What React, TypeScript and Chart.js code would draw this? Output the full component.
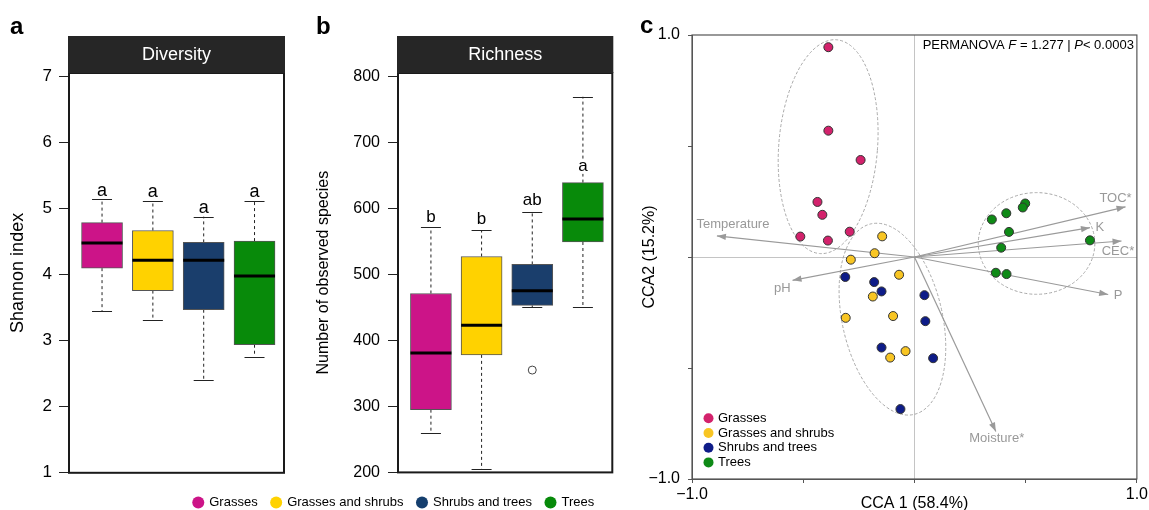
import React, { useEffect, useRef } from 'react';
import { Chart, registerables } from 'chart.js';

Chart.register(...registerables);

const FONT = '"Liberation Sans", Arial, Helvetica, sans-serif';
Chart.defaults.font.family = FONT;
Chart.defaults.color = '#000';

// ---------- shared groups ----------
const groups = ['Grasses', 'Grasses and shrubs', 'Shrubs and trees', 'Trees'];
const boxColors = ['#CC1488', '#FFD200', '#1A3E6C', '#088A0A'];
const dotColors = ['#D3226C', '#F8C523', '#0E1C88', '#0E8A16'];
const legendColors = ['#CC1488', '#FFD200', '#153F6E', '#078A0A'];

// ---------- panel a: Diversity (Shannon index) ----------
const divLow = [3.45, 3.32, 2.4, 2.76];
const divQ1 = [4.1, 3.76, 3.47, 2.94];
const divMed = [4.48, 4.22, 4.22, 3.98];
const divQ3 = [4.79, 4.67, 4.49, 4.51];
const divHigh = [5.14, 5.12, 4.88, 5.12];
const divLetters = ['a', 'a', 'a', 'a'];
const divLetterAt = [5.27, 5.25, 5.01, 5.25];
const divTicks = [1, 2, 3, 4, 5, 6, 7];

// ---------- panel b: Richness ----------
const richLow = [260, 205, 450, 450];
const richQ1 = [295, 378, 453, 549];
const richMed = [381, 423, 475, 584];
const richQ3 = [471, 527, 515, 639];
const richHigh = [571, 567, 595, 769];
const richOutlierGroup = [3];
const richOutlierValue = [355];
const richLetters = ['b', 'b', 'ab', 'a'];
const richLetterAt = [586, 583, 612, 663];
const richTicks = [200, 300, 400, 500, 600, 700, 800];

// ---------- panel c: CCA ----------
const grassesX = [-0.387, -0.387, -0.242, -0.436, -0.414, -0.291, -0.513, -0.389];
const grassesY = [0.945, 0.569, 0.437, 0.248, 0.19, 0.114, 0.092, 0.074];
const grassShrubX = [-0.145, -0.179, -0.286, -0.069, -0.187, -0.309, -0.096, -0.04, -0.109];
const grassShrubY = [0.093, 0.017, -0.012, -0.08, -0.178, -0.274, -0.266, -0.424, -0.453];
const shrubTreeX = [-0.311, -0.181, -0.148, 0.045, 0.049, -0.148, 0.084, -0.063];
const shrubTreeY = [-0.09, -0.113, -0.155, -0.172, -0.289, -0.408, -0.456, -0.685];
const treesX = [0.498, 0.487, 0.413, 0.348, 0.425, 0.39, 0.789, 0.366, 0.414];
const treesY = [0.241, 0.223, 0.197, 0.169, 0.113, 0.042, 0.075, -0.071, -0.077];
const ccaX = [grassesX, grassShrubX, shrubTreeX, treesX];
const ccaY = [grassesY, grassShrubY, shrubTreeY, treesY];

const vecNames = ['Temperature', 'pH', 'TOC*', 'K', 'CEC*', 'P', 'Moisture*'];
const vecX = [-0.888, -0.548, 0.949, 0.789, 0.931, 0.871, 0.366];
const vecY = [0.095, -0.105, 0.226, 0.132, 0.072, -0.169, -0.786];
const vecLabelX = [-0.816, -0.594, 0.904, 0.834, 0.915, 0.915, 0.37];
const vecLabelY = [0.149, -0.14, 0.266, 0.132, 0.027, -0.172, -0.817];

const ellCX = [-0.388, -0.099, 0.549];
const ellCY = [0.497, -0.28, 0.061];
const ellRX = [0.222, 0.225, 0.262];
const ellRY = [0.483, 0.44, 0.229];
const ellAngle = [4.5, -12.7, 0];

const cTickVals = [-1, -0.5, 0, 0.5, 1];
const cTickLabels = ['\u22121.0', '', '', '', '1.0'];

const permText = ['PERMANOVA ', 'F', ' = 1.277 | ', 'P', '< 0.0003'];

// ---------- box plot config ----------
type BoxOpts = {
  id: string;
  panel: string;
  header: string;
  yTitle: string;
  yTitleSize: number;
  tickSize: number;
  letterSize: number;
  ticks: number[];
  yMin: number;
  yMax: number;
  low: number[];
  q1: number[];
  med: number[];
  q3: number[];
  high: number[];
  letters: string[];
  letterAt: number[];
  outGroup: number[];
  outValue: number[];
  padLeft: number;
  axisWidth: number;
  padRight: number;
  padBottom: number;
  tickPad: number;
};

function boxConfig(o: BoxOpts): any {
  const xs = groups.map((_, i) => i + 1);
  const decor = {
    id: o.id,
    beforeDatasetsDraw(chart: any) {
      const { ctx, scales } = chart;
      const x = scales.x, y = scales.y;
      ctx.save();
      ctx.strokeStyle = '#222';
      ctx.lineWidth = 1;
      xs.forEach((xv, i) => {
        const px = x.getPixelForValue(xv);
        ctx.setLineDash([3, 3]);
        ctx.beginPath();
        ctx.moveTo(px, y.getPixelForValue(o.q3[i]));
        ctx.lineTo(px, y.getPixelForValue(o.high[i]));
        ctx.moveTo(px, y.getPixelForValue(o.q1[i]));
        ctx.lineTo(px, y.getPixelForValue(o.low[i]));
        ctx.stroke();
        ctx.setLineDash([]);
        ctx.beginPath();
        [o.high[i], o.low[i]].forEach((v) => {
          const py = Math.round(y.getPixelForValue(v)) + 0.5;
          ctx.moveTo(px - 10, py);
          ctx.lineTo(px + 10, py);
        });
        ctx.stroke();
      });
      ctx.restore();
    },
    afterDatasetsDraw(chart: any) {
      const { ctx, scales } = chart;
      const x = scales.x, y = scales.y;
      ctx.save();
      ctx.strokeStyle = '#000';
      ctx.lineWidth = 3;
      xs.forEach((xv, i) => {
        const px = x.getPixelForValue(xv);
        const py = y.getPixelForValue(o.med[i]);
        ctx.beginPath();
        ctx.moveTo(px - 20.5, py);
        ctx.lineTo(px + 20.5, py);
        ctx.stroke();
      });
      ctx.font = `${o.letterSize}px ${FONT}`;
      ctx.textAlign = 'center';
      ctx.textBaseline = 'middle';
      xs.forEach((xv, i) => {
        const px = x.getPixelForValue(xv);
        const py = y.getPixelForValue(o.letterAt[i]);
        const w = ctx.measureText(o.letters[i]).width;
        ctx.fillStyle = '#fff';
        ctx.fillRect(px - w / 2 - 1, py - 7, w + 2, 14);
        ctx.fillStyle = '#000';
        ctx.fillText(o.letters[i], px, py);
      });
      ctx.restore();
    },
    afterDraw(chart: any) {
      const { ctx, chartArea: a } = chart;
      ctx.save();
      ctx.strokeStyle = '#1a1a1a';
      ctx.lineWidth = 2;
      ctx.strokeRect(a.left, a.top, a.right - a.left, a.bottom - a.top);
      ctx.fillStyle = '#262626';
      ctx.fillRect(a.left - 1, 36, a.right - a.left + 2, a.top - 36);
      ctx.fillStyle = '#fff';
      ctx.font = `18px ${FONT}`;
      ctx.textAlign = 'center';
      ctx.textBaseline = 'middle';
      ctx.fillText(o.header, (a.left + a.right) / 2, 55);
      ctx.fillStyle = '#000';
      ctx.font = `bold 24px ${FONT}`;
      ctx.textAlign = 'left';
      ctx.textBaseline = 'alphabetic';
      ctx.fillText(o.panel, o.id === 'boxA' ? 10 : 16, 34);
      ctx.restore();
    },
  };
  return {
    type: 'bar',
    data: {
      datasets: [
        {
          type: 'scatter',
          label: 'outliers',
          data: o.outGroup.map((g, i) => ({ x: g, y: o.outValue[i] })),
          pointRadius: 4,
          pointBackgroundColor: '#fff',
          pointBorderColor: '#444',
          pointBorderWidth: 1,
        },
        {
          type: 'bar',
          label: 'box',
          data: xs.map((xv, i) => ({ x: xv, y: [o.q1[i], o.q3[i]] })),
          backgroundColor: boxColors,
          borderColor: '#555',
          borderWidth: 1,
          borderSkipped: false,
          barThickness: 41,
        },
      ],
    },
    options: {
      responsive: false,
      animation: false,
      layout: { padding: { left: o.padLeft, top: 73, right: o.padRight, bottom: o.padBottom } },
      plugins: { legend: { display: false }, tooltip: { enabled: false } },
      scales: {
        x: { type: 'linear', min: 0.35, max: 4.58, display: false, offset: false },
        y: {
          type: 'linear',
          min: o.yMin,
          max: o.yMax,
          afterBuildTicks: (s: any) => {
            s.ticks = o.ticks.map((v) => ({ value: v }));
          },
          afterFit: (s: any) => {
            s.width = o.axisWidth;
          },
          ticks: { font: { size: o.tickSize }, color: '#000', padding: o.tickPad },
          grid: { drawOnChartArea: false, tickLength: 10, tickColor: '#222', lineWidth: 1 },
          border: { display: false },
          title: { display: true, text: o.yTitle, font: { size: o.yTitleSize }, color: '#000', padding: 0 },
        },
      },
    },
    plugins: [decor],
  };
}

// ---------- CCA config ----------
function ccaConfig(): any {
  const decor = {
    id: 'ccaDecor',
    beforeDatasetsDraw(chart: any) {
      const { ctx, scales } = chart;
      const x = scales.x, y = scales.y;
      ctx.save();
      ctx.strokeStyle = '#a8a8a8';
      ctx.lineWidth = 1;
      ctx.setLineDash([3, 2]);
      ellCX.forEach((cx, i) => {
        const px = x.getPixelForValue(cx);
        const py = y.getPixelForValue(ellCY[i]);
        const rx = Math.abs(x.getPixelForValue(cx + ellRX[i]) - px);
        const ry = Math.abs(y.getPixelForValue(ellCY[i] + ellRY[i]) - py);
        ctx.beginPath();
        ctx.ellipse(px, py, rx, ry, (ellAngle[i] * Math.PI) / 180, 0, Math.PI * 2);
        ctx.stroke();
      });
      ctx.restore();
    },
    afterDatasetDraw(chart: any, args: any) {
      const ds = chart.data.datasets[args.index];
      if (!ds.isVector) return;
      const { ctx, scales } = chart;
      const x = scales.x, y = scales.y;
      const i = ds.vecIndex;
      const x0 = x.getPixelForValue(0), y0 = y.getPixelForValue(0);
      const x1 = x.getPixelForValue(vecX[i]), y1 = y.getPixelForValue(vecY[i]);
      const ang = Math.atan2(y1 - y0, x1 - x0);
      const L = 9, W = 3.2;
      ctx.save();
      ctx.fillStyle = '#9a9a9a';
      ctx.beginPath();
      ctx.moveTo(x1, y1);
      ctx.lineTo(x1 - L * Math.cos(ang) + W * Math.sin(ang), y1 - L * Math.sin(ang) - W * Math.cos(ang));
      ctx.lineTo(x1 - L * Math.cos(ang) - W * Math.sin(ang), y1 - L * Math.sin(ang) + W * Math.cos(ang));
      ctx.closePath();
      ctx.fill();
      ctx.fillStyle = '#999';
      ctx.font = `13px ${FONT}`;
      ctx.textAlign = 'center';
      ctx.textBaseline = 'middle';
      ctx.fillText(vecNames[i], x.getPixelForValue(vecLabelX[i]), y.getPixelForValue(vecLabelY[i]));
      ctx.restore();
    },
    afterDraw(chart: any) {
      const { ctx, chartArea: a } = chart;
      ctx.save();
      ctx.strokeStyle = '#555';
      ctx.lineWidth = 1.2;
      ctx.strokeRect(a.left, a.top, a.right - a.left, a.bottom - a.top);
      // PERMANOVA text
      const fonts = [`13px ${FONT}`, `italic 13px ${FONT}`, `13px ${FONT}`, `italic 13px ${FONT}`, `13px ${FONT}`];
      let total = 0;
      const widths = permText.map((t, i) => {
        ctx.font = fonts[i];
        const w = ctx.measureText(t).width;
        total += w;
        return w;
      });
      let px = a.right - 3 - total;
      ctx.fillStyle = '#000';
      ctx.textBaseline = 'middle';
      ctx.textAlign = 'left';
      permText.forEach((t, i) => {
        ctx.font = fonts[i];
        ctx.fillText(t, px, 45);
        px += widths[i];
      });
      // legend
      ctx.font = `13px ${FONT}`;
      groups.forEach((g, i) => {
        const ly = 418.3 + i * 14.7;
        ctx.beginPath();
        ctx.arc(a.left + 16.5, ly, 5, 0, Math.PI * 2);
        ctx.fillStyle = dotColors[i];
        ctx.fill();
        ctx.fillStyle = '#000';
        ctx.fillText(g, a.left + 26, ly);
      });
      // panel letter
      ctx.font = `bold 24px ${FONT}`;
      ctx.textBaseline = 'alphabetic';
      ctx.fillText('c', 0, 33);
      ctx.restore();
    },
  };
  const tickLabel = (v: any) => {
    const idx = cTickVals.findIndex((t) => Math.abs(t - Number(v)) < 1e-9);
    return idx >= 0 ? cTickLabels[idx] : '';
  };
  const gridColor = (c: any) => (c.tick && Math.abs(c.tick.value) < 1e-9 ? '#c4c4c4' : 'rgba(0,0,0,0)');
  return {
    type: 'scatter',
    data: {
      datasets: [
        ...groups.map((g, i) => ({
          type: 'scatter',
          label: g,
          data: ccaX[i].map((xv, j) => ({ x: xv, y: ccaY[i][j] })),
          pointRadius: 4.5,
          pointBackgroundColor: dotColors[i],
          pointBorderColor: '#333',
          pointBorderWidth: 1,
        })),
        ...vecNames.map((n, i) => ({
          type: 'line',
          label: n,
          isVector: true,
          vecIndex: i,
          data: [
            { x: 0, y: 0 },
            { x: vecX[i], y: vecY[i] },
          ],
          borderColor: '#9a9a9a',
          borderWidth: 1.2,
          pointRadius: 0,
          showLine: true,
          fill: false,
        })),
      ],
    },
    options: {
      responsive: false,
      animation: false,
      layout: { padding: { left: 0, top: 35, right: 12, bottom: 7 } },
      plugins: { legend: { display: false }, tooltip: { enabled: false } },
      scales: {
        x: {
          type: 'linear',
          min: -1,
          max: 1,
          afterBuildTicks: (s: any) => {
            s.ticks = cTickVals.map((v) => ({ value: v }));
          },
          afterFit: (s: any) => {
            s.height = 34;
          },
          ticks: { callback: tickLabel, font: { size: 16 }, color: '#000', padding: 2, maxRotation: 0, autoSkip: false },
          grid: { color: gridColor, tickColor: '#555', tickLength: 4, lineWidth: 1 },
          border: { display: true, color: '#555', width: 1 },
          title: { display: true, text: 'CCA 1 (58.4%)', font: { size: 16 }, color: '#000', padding: 0 },
        },
        y: {
          type: 'linear',
          min: -1,
          max: 1,
          afterBuildTicks: (s: any) => {
            s.ticks = cTickVals.map((v) => ({ value: v }));
          },
          afterFit: (s: any) => {
            s.width = 52;
          },
          ticks: { callback: tickLabel, font: { size: 16 }, color: '#000', padding: 8, autoSkip: false },
          grid: { color: gridColor, tickColor: '#555', tickLength: 4, lineWidth: 1 },
          border: { display: true, color: '#555', width: 1 },
          title: { display: true, text: 'CCA2 (15.2%)', font: { size: 16 }, color: '#000', padding: 0 },
        },
      },
    },
    plugins: [decor],
  };
}

function legendConfig(): any {
  return {
    type: 'scatter',
    data: {
      datasets: groups.map((g, i) => ({
        label: g,
        data: [{ x: 0, y: 0 }],
        pointRadius: 0,
        backgroundColor: legendColors[i],
        borderColor: legendColors[i],
        borderWidth: 0,
        pointStyle: 'circle',
      })),
    },
    options: {
      responsive: false,
      animation: false,
      layout: { padding: 0 },
      scales: { x: { display: false }, y: { display: false } },
      plugins: {
        tooltip: { enabled: false },
        legend: {
          display: true,
          position: 'top',
          align: 'center',
          labels: {
            usePointStyle: true,
            pointStyle: 'circle',
            boxWidth: 9,
            boxHeight: 8.5,
            padding: 14,
            color: '#000',
            font: { size: 13 },
          },
        },
      },
    },
  };
}

export default function App() {
  const aRef = useRef<HTMLCanvasElement>(null);
  const bRef = useRef<HTMLCanvasElement>(null);
  const cRef = useRef<HTMLCanvasElement>(null);
  const lRef = useRef<HTMLCanvasElement>(null);

  useEffect(() => {
    const charts: Chart[] = [];
    charts.push(
      new Chart(
        aRef.current!,
        boxConfig({
          id: 'boxA',
          panel: 'a',
          header: 'Diversity',
          yTitle: 'Shannon index',
          yTitleSize: 18,
          tickSize: 17,
          letterSize: 18,
          ticks: divTicks,
          yMin: 1,
          yMax: 7.056,
          low: divLow,
          q1: divQ1,
          med: divMed,
          q3: divQ3,
          high: divHigh,
          letters: divLetters,
          letterAt: divLetterAt,
          outGroup: [],
          outValue: [],
          padLeft: 7.5,
          axisWidth: 61.5,
          padRight: 16,
          padBottom: 15,
          tickPad: 7,
        })
      )
    );
    charts.push(
      new Chart(
        bRef.current!,
        boxConfig({
          id: 'boxB',
          panel: 'b',
          header: 'Richness',
          yTitle: 'Number of observed species',
          yTitleSize: 16,
          tickSize: 16,
          letterSize: 17,
          ticks: richTicks,
          yMin: 200,
          yMax: 805,
          low: richLow,
          q1: richQ1,
          med: richMed,
          q3: richQ3,
          high: richHigh,
          letters: richLetters,
          letterAt: richLetterAt,
          outGroup: richOutlierGroup,
          outValue: richOutlierValue,
          padLeft: 14.4,
          axisWidth: 83.6,
          padRight: 17.7,
          padBottom: 14,
          tickPad: 8,
        })
      )
    );
    charts.push(new Chart(cRef.current!, ccaConfig()));
    charts.push(new Chart(lRef.current!, legendConfig()));
    return () => charts.forEach((c) => c.destroy());
  }, []);

  const abs = (l: number, t: number): React.CSSProperties => ({ position: 'absolute', left: l, top: t });
  return (
    <div style={{ position: 'absolute', left: 0, top: 0, width: 1149, height: 510, overflow: 'hidden', background: '#fff' }}>
      <canvas ref={aRef} width={300} height={490} style={abs(0, 0)} />
      <canvas ref={bRef} width={330} height={490} style={abs(300, 0)} />
      <canvas ref={cRef} width={510} height={520} style={abs(640, 0)} />
      <canvas ref={lRef} width={430} height={80} style={abs(179, 482)} />
    </div>
  );
}
